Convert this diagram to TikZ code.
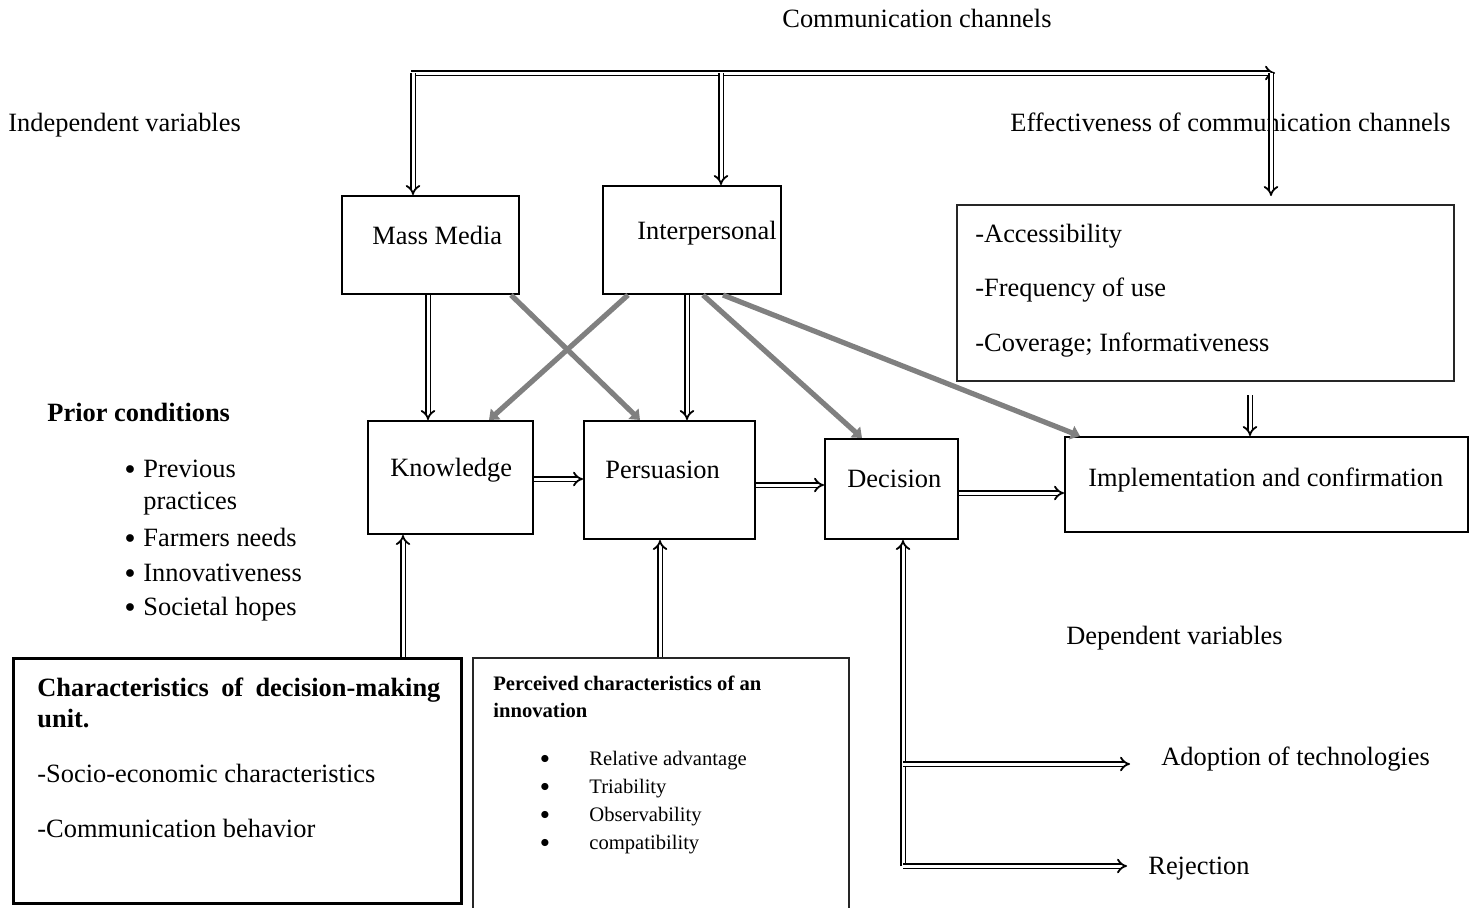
\documentclass[tikz,border=0pt]{standalone}
\usepackage{fontspec}
\setmainfont{Liberation Serif}
\usetikzlibrary{arrows.meta,fit,calc}
\begin{document}
\begin{tikzpicture}[x=0.5pt,y=-0.5pt,
 txt/.style={font=\fontsize{13.2}{16}\selectfont, inner sep=0pt, anchor=base west},
 btxt/.style={font=\fontsize{13.2}{15.5}\selectfont\bfseries, inner sep=0pt, anchor=base west},
 sml/.style={font=\fontsize{10.3}{12}\selectfont, inner sep=0pt, anchor=base west},
 bsml/.style={font=\fontsize{10.3}{13.5}\selectfont\bfseries, inner sep=0pt, anchor=base west},
 bul/.style={inner sep=0pt, anchor=center},
 box/.style={draw, line width=1pt, inner sep=0pt},
 thinbox/.style={draw=black!85, line width=0.55pt, inner sep=0pt},
 thickbox/.style={draw, line width=1.5pt, inner sep=0pt},
 dbl/.style={double, double distance=1.5pt, line width=0.9pt, -{Implies}},
 gry/.style={draw=black!50, line width=2.6pt, -{Triangle[length=4.5pt,width=7pt]}}]
\useasboundingbox (0,0) rectangle (1476,907);

% ---------- boxes ----------
\node[box, fit={(342,196) (519,294)}] (mm) {};
\node[box, fit={(603,186) (781,294)}] (ip) {};
\node[thinbox, fit={(957,205) (1454,381)}] (ef) {};
\node[box, fit={(368,421) (533,534)}] (kn) {};
\node[box, fit={(584,421) (755,539)}] (pe) {};
\node[box, fit={(825,439) (958,539)}] (dc) {};
\node[box, fit={(1065,437) (1468,532)}] (im) {};
\node[thickbox, fit={(13,658) (461,903)}] (ch) {};
\node[thinbox, fit={(473,658) (849,915)}] (pc) {};

% ---------- texts ----------
\node[txt] (tcc) at (782,27) {Communication channels};
\node[txt] (tiv) at (8,131) {Independent variables};
\node[txt] (tef) at (1010,131) {Effectiveness of communication channels};
\node[txt] (tmm) at (372,244) {Mass Media};
\node[txt] (tip) at (637,239) {Interpersonal};
\node[txt] (ta1) at (975,242) {-Accessibility};
\node[txt] (ta2) at (975,296) {-Frequency of use};
\node[txt] (ta3) at (975,351) {-Coverage; Informativeness};
\node[btxt] (tpr) at (47,421) {Prior conditions};
\node[txt] (tkn) at (390,476) {Knowledge};
\node[txt] (tpe) at (605,478) {Persuasion};
\node[txt] (tdc) at (847,487) {Decision};
\node[txt] (tim) at (1088,486) {Implementation and confirmation};
\node[bul] (b1) at (130,470) {$\bullet$};
\node[txt] (p1) at (143,477) {Previous};
\node[txt] (p1b) at (143,509) {practices};
\node[bul] (b2) at (130,539) {$\bullet$};
\node[txt] (p2) at (143,546) {Farmers needs};
\node[bul] (b3) at (130,574) {$\bullet$};
\node[txt] (p3) at (143,581) {Innovativeness};
\node[bul] (b4) at (130,608) {$\bullet$};
\node[txt] (p4) at (143,615) {Societal hopes};
\node[txt] (tdv) at (1066,644) {Dependent variables};
\node[btxt] (tch1) at (37,696) {\hbox to 201.5pt{Characteristics\hfill of\hfill decision-making}};
\node[btxt] (tch2) at (37,727) {unit.};
\node[txt] (tch3) at (37,782) {-Socio-economic characteristics};
\node[txt] (tch4) at (37,837) {-Communication behavior};
\node[bsml] (tpc1) at (493,690) {Perceived characteristics of an};
\node[bsml] (tpc2) at (493,717) {innovation};
\node[bul, font=\small] (q1) at (545,759) {$\bullet$};
\node[sml] (r1) at (589,765) {Relative advantage};
\node[bul, font=\small] (q2) at (545,787) {$\bullet$};
\node[sml] (r2) at (589,793) {Triability};
\node[bul, font=\small] (q3) at (545,815) {$\bullet$};
\node[sml] (r3) at (589,821) {Observability};
\node[bul, font=\small] (q4) at (545,843) {$\bullet$};
\node[sml] (r4) at (589,849) {compatibility};
\node[txt] (tad) at (1161,765) {Adoption of technologies};
\node[txt] (trj) at (1148,874) {Rejection};

% ---------- coordinates ----------
\coordinate (barL) at (411,73);
\coordinate (barR) at (1275,73);
\coordinate (efIn) at (1271,196);
\coordinate (efOut) at (1250,395);
\coordinate (dcB) at (903,866);
\coordinate (dcM) at (903,764);
\coordinate (adE) at (1130,764);
\coordinate (rjE) at (1127,866);

% ---------- top bar ----------
\draw[dbl] (barL) -- (barR);
\draw[dbl] (413,73) -- (413,0 |- mm.north);
\draw[dbl] (721,73) -- (721,0 |- ip.north);
\draw[dbl] (1271,73) -- (efIn);

% ---------- vertical double arrows ----------
\draw[dbl] (428,0 |- mm.south) -- (428,0 |- kn.north);
\draw[dbl] (687,0 |- ip.south) -- (687,0 |- pe.north);
\draw[dbl] (efOut) -- (1250,0 |- im.north);
\draw[dbl] (403,0 |- ch.north) -- (403,0 |- kn.south);
\draw[dbl] (660,0 |- pc.north) -- (660,0 |- pe.south);

% ---------- horizontal double arrows ----------
\draw[dbl] (kn.east |- 0,479) -- (pe.west |- 0,479);
\draw[dbl] (pe.east |- 0,485) -- (dc.west |- 0,485);
\draw[dbl] (dc.east |- 0,493) -- (im.west |- 0,493);

% ---------- decision outcomes ----------
\draw[dbl] (dcB) -- (903,0 |- dc.south);
\draw[dbl] (dcM) -- (adE);
\draw[dbl] (dcB) -- (rjE);

% ---------- gray arrows ----------
\draw[gry] (511,0 |- mm.south) -- (640,0 |- pe.north);
\draw[gry] (628,0 |- ip.south) -- (489,0 |- kn.north);
\draw[gry] (703,0 |- ip.south) -- (862,0 |- dc.north);
\draw[gry] (723,0 |- ip.south) -- (1080,0 |- im.north);
\end{tikzpicture}
\end{document}
